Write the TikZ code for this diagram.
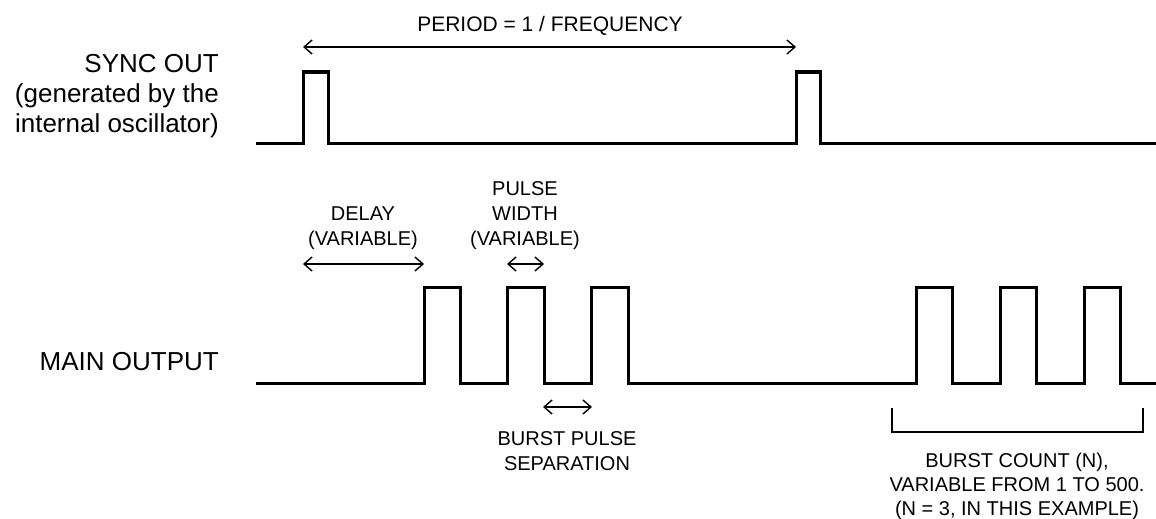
\documentclass[tikz,border=0pt]{standalone}
\usepackage{fontspec}
\setmainfont{Liberation Sans}
\usetikzlibrary{arrows.meta}
\begin{document}
\begin{tikzpicture}[x=1pt,y=-1pt,
  wave/.style={line width=3pt, line join=miter, line cap=butt},
  dimline/.style={line width=1.4pt, {Straight Barb[length=8pt,width=14pt]}-{Straight Barb[length=8pt,width=14pt]}},
  brk/.style={line width=1.6pt},
  small/.style={font=\fontsize{20}{25}\selectfont, inner sep=0pt, align=center, anchor=base},
  big/.style={font=\fontsize{26}{30}\selectfont, inner sep=0pt, align=right, anchor=base east},
]
\useasboundingbox (0,0) rectangle (1156,519);

% labels (anchor base = baseline of the last line)
\node[big] (sync) at (219,132) {SYNC OUT\\(generated by the\\internal oscillator)};
\node[big] (main) at (219,370) {MAIN OUTPUT};
\node[small, font=\fontsize{21}{25}\selectfont] (period) at (550,32) {PERIOD = 1 / FREQUENCY};
\node[small] (delay) at (363,245) {DELAY\\(VARIABLE)};
\node[small] (pw) at (525,245) {PULSE\\WIDTH\\(VARIABLE)};
\node[small] (bps) at (567,470) {BURST PULSE\\SEPARATION};
\node[small, font=\fontsize{20}{24}\selectfont] (bc) at (1017,515) {BURST COUNT (N),\\VARIABLE FROM 1 TO 500.\\(N = 3, IN THIS EXAMPLE)};

% sync waveform
\draw[wave] (256,143) -- (303,143) -- (303,72) -- (328,72) -- (328,143)
  -- (796,143) -- (796,72) -- (820,72) -- (820,143) -- (1156,143);

% main waveform
\draw[wave] (256,383) -- (424,383) -- (424,287) -- (460,287) -- (460,383)
  -- (507.5,383) -- (507.5,287) -- (544,287) -- (544,383)
  -- (591.5,383) -- (591.5,287) -- (628,287) -- (628,383)
  -- (916,383) -- (916,287) -- (952,287) -- (952,383)
  -- (1000,383) -- (1000,287) -- (1036,287) -- (1036,383)
  -- (1084,383) -- (1084,287) -- (1120,287) -- (1120,383) -- (1156,383);

% dimension arrows
\coordinate (pA) at (303,47);  \coordinate (pB) at (796,47);
\coordinate (dA) at (303,264); \coordinate (dB) at (424,264);
\coordinate (wA) at (507,264); \coordinate (wB) at (544,264);
\coordinate (sA) at (543,407); \coordinate (sB) at (592,407);
\draw[dimline] (pA) -- (pB);
\draw[dimline] (dA) -- (dB);
\draw[dimline] (wA) -- (wB);
\draw[dimline] (sA) -- (sB);

% burst bracket
\coordinate (b1) at (892,408); \coordinate (b2) at (1143,408);
\draw[brk] (b1) -- (892,432) -- (1143,432) -- (b2);
\end{tikzpicture}
\end{document}
